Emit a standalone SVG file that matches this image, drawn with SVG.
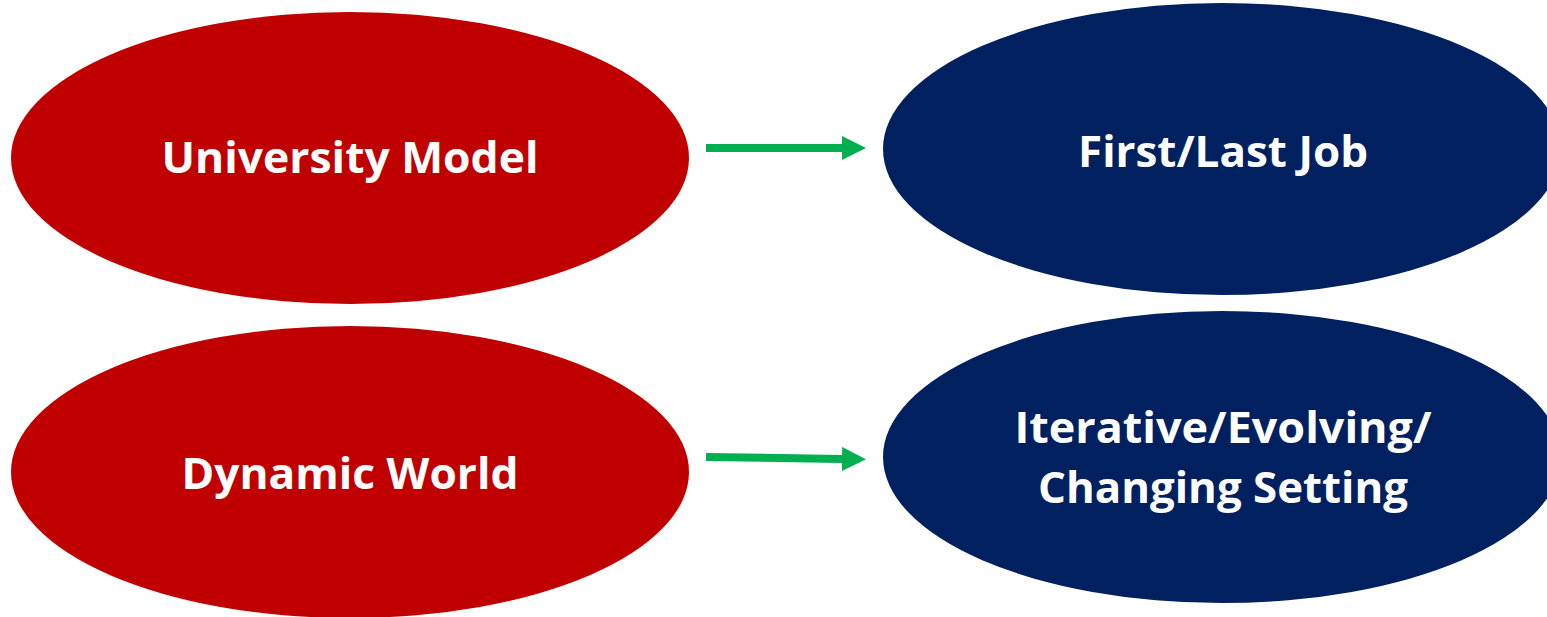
<svg xmlns="http://www.w3.org/2000/svg" width="1547" height="617" viewBox="0 0 1547 617">
<style>
.red{fill:#C00000}
.blue{fill:#002060}
.lbl{font-family:"Open Sans","Liberation Sans",sans-serif;font-weight:bold;font-size:43px;fill:#FFFFFF;text-anchor:middle}
.conn{stroke:#00B050;stroke-width:8;fill:none}
</style>
<defs>
<marker id="ah" markerUnits="userSpaceOnUse" markerWidth="24" markerHeight="24" refX="0" refY="12" orient="auto" viewBox="0 0 24 24">
<path d="M0,0 L24,12 L0,24 Z" fill="#00B050"/>
</marker>
</defs>
<rect width="1547" height="617" fill="#FFFFFF"/>
<g id="connectors">
<line class="conn" x1="706" y1="148" x2="842" y2="148" marker-end="url(#ah)"/>
<line class="conn" x1="706" y1="457" x2="842" y2="459" marker-end="url(#ah)"/>
</g>
<g id="university-model">
<ellipse class="red" cx="350" cy="158" rx="339" ry="146"/>
<text class="lbl" x="350" y="173" textLength="377" lengthAdjust="spacingAndGlyphs">University Model</text>
</g>
<g id="dynamic-world">
<ellipse class="red" cx="350" cy="472" rx="339" ry="146"/>
<text class="lbl" x="350" y="489" textLength="337" lengthAdjust="spacingAndGlyphs">Dynamic World</text>
</g>
<g id="first-last-job">
<ellipse class="blue" cx="1222" cy="149" rx="339" ry="146"/>
<text class="lbl" x="1223" y="167" textLength="290" lengthAdjust="spacingAndGlyphs">First/Last Job</text>
</g>
<g id="iterative-setting">
<ellipse class="blue" cx="1222" cy="457" rx="339" ry="146"/>
<text class="lbl" x="1223" y="443" textLength="417" lengthAdjust="spacingAndGlyphs">Iterative/Evolving/</text>
<text class="lbl" x="1223" y="503" textLength="370" lengthAdjust="spacingAndGlyphs">Changing Setting</text>
</g>
</svg>
